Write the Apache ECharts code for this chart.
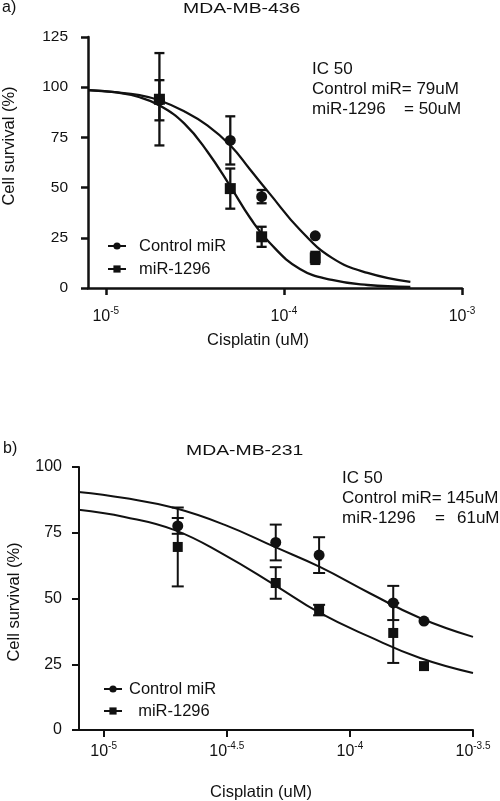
<!DOCTYPE html>
<html><head><meta charset="utf-8">
<script src="https://cdn.jsdelivr.net/npm/echarts@6/dist/echarts.min.js"></script>
<style>html,body{margin:0;padding:0;background:#fff}#c{width:500px;height:801px}</style>
</head><body><div id="c"></div>
<script>
// ---------- data: panel a (MDA-MB-436) ----------
const concA = [2e-5, 5e-5, 7.5e-5, 1.5e-4];          // cisplatin concentration
const ctrlA = [93.5, 73.5, 45.5, 26];                 // Control miR survival %
const ctrlAErr = [10, 12, 3.3, 0];
const mirA = [94, 49.5, 25.5, 15];                    // miR-1296 survival %
const mirAErr = [23, 10, 5, 3];
// fitted curves (log10 concentration, survival %)
const curveAx = [-5.10, -4.95, -4.81, -4.70, -4.56, -4.43, -4.30, -4.19, -4.08, -3.91, -3.73, -3.53, -3.29];
const ctrlCurveA = [98.5, 97.5, 96, 93.5, 88, 81, 71, 59, 47, 29, 15, 7.5, 3];
const mirCurveA  = [98.5, 97.5, 95, 91, 82, 68, 50.5, 35, 22.5, 9.5, 4, 1.5, 0.5];
const xTicksA = [-5, -4, -3];

// ---------- data: panel b (MDA-MB-231) ----------
const concB = [2e-5, 5e-5, 7.5e-5, 1.5e-4, 2e-4];
const ctrlB = [77.6, 71.3, 66.5, 48.3, 41.4];
const ctrlBErr = [3, 6.8, 6.8, 6.5, 0];
const mirB = [69.6, 55.9, 45.6, 36.9, 24.3];
const mirBErr = [15, 6, 2, 11.4, 0];
const curveBx = [-5.102, -4.915, -4.711, -4.508, -4.305, -4.122, -3.919, -3.715, -3.5];
const ctrlCurveB = [90.5, 88.2, 84.4, 78, 69.6, 62, 52, 42.6, 35.4];
const mirCurveB  = [83.7, 81, 76, 66.5, 55.1, 44.5, 35.4, 27.4, 21.7];
const xTicksB = [-5, -4.5, -4, -3.5];

const legendNames = ['Control miR', 'miR-1296'];

const FF = '"Liberation Sans", Arial, Helvetica, sans-serif';
const BLACK = '#111';

function pairs(xs, ys) { return xs.map((x, i) => [x, ys[i]]); }
function pts(conc, ys) { return conc.map((c, i) => [Math.log10(c), ys[i]]); }
function errs(conc, ys, es) { return conc.map((c, i) => [Math.log10(c), ys[i], es[i]]); }

function makeErr(capHalf, lw) {
  return function (params, api) {
    const x = api.value(0), y = api.value(1), e = api.value(2);
    if (!e) return { type: 'group', children: [] };
    const t = api.coord([x, y + e]), b = api.coord([x, y - e]);
    const st = { stroke: BLACK, lineWidth: lw };
    return { type: 'group', children: [
      { type: 'line', shape: { x1: t[0], y1: t[1], x2: b[0], y2: b[1] }, style: st },
      { type: 'line', shape: { x1: t[0] - capHalf, y1: t[1], x2: t[0] + capHalf, y2: t[1] }, style: st },
      { type: 'line', shape: { x1: b[0] - capHalf, y1: b[1], x2: b[0] + capHalf, y2: b[1] }, style: st }
    ]};
  };
}

function supLabel(v) {
  return '{b|10}{s|' + String(v) + '}';
}
function xAxisCfg(grid, min, max, ticks, margin, lw) {
  return {
    gridIndex: grid, type: 'value', min: min, max: max,
    axisLine: { lineStyle: { color: BLACK, width: lw } },
    axisTick: { customValues: ticks, length: 7, lineStyle: { color: BLACK, width: lw } },
    axisLabel: {
      customValues: ticks, margin: margin, formatter: supLabel, color: BLACK,
      rich: {
        b: { fontSize: 16, fontFamily: FF, color: BLACK },
        s: { fontSize: 10, fontFamily: FF, color: BLACK, padding: [0, 0, 12, 0] }
      }
    },
    splitLine: { show: false }
  };
}
function yAxisCfg(grid, max, fs, margin, lw) {
  return {
    gridIndex: grid, type: 'value', min: 0, max: max, interval: 25,
    axisLine: { show: true, lineStyle: { color: BLACK, width: lw } },
    axisTick: { show: true, length: 7, lineStyle: { color: BLACK, width: lw } },
    axisLabel: { fontSize: fs, fontFamily: FF, color: BLACK, margin: margin },
    splitLine: { show: false }
  };
}

const chart = echarts.init(document.getElementById('c'), null, { renderer: 'canvas' });

function txt(x, y, text, fs, align, extra) {
  return Object.assign({
    type: 'text', x: x, y: y,
    style: { text: text, fontSize: fs, fontFamily: FF, fill: BLACK,
      textAlign: align || 'left', textVerticalAlign: 'middle',
      align: align || 'left', verticalAlign: 'middle' }
  }, extra || {});
}

const lineCommon = { smooth: 0.45, showSymbol: false, z: 2 };

const option = {
  animation: false,
  backgroundColor: '#fff',
  grid: [
    { left: 88, right: 38, top: 37, height: 251 },
    { left: 79, right: 27, top: 467, height: 263 }
  ],
  xAxis: [
    xAxisCfg(0, -5.1, -3, xTicksA, 18, 2.5),
    xAxisCfg(1, -5.1, -3.5, xTicksB, 11, 2)
  ],
  yAxis: [
    yAxisCfg(0, 125, 15.5, 20, 2.5),
    yAxisCfg(1, 100, 16, 17, 2)
  ],
  legend: [
    {
      orient: 'vertical', left: 102, top: 232, itemWidth: 18, itemHeight: 9, itemGap: 5,
      selectedMode: false, data: legendNames,
      textStyle: { fontSize: 16.5, fontFamily: FF, color: BLACK, lineHeight: 18, padding: [0, 0, 0, 8] }
    },
    {
      orient: 'vertical', left: 98, top: 675, itemWidth: 18, itemHeight: 9, itemGap: 4,
      selectedMode: false, data: legendNames,
      formatter: function (n) { return n === 'miR-1296' ? '  ' + n : n; },
      textStyle: { fontSize: 16.5, fontFamily: FF, color: BLACK, lineHeight: 18, padding: [0, 0, 0, 2] }
    }
  ],
  series: [
    // fitted curves (first, so legend uses line icons)
    Object.assign({ name: legendNames[0], type: 'line', xAxisIndex: 0, yAxisIndex: 0, data: pairs(curveAx, ctrlCurveA),
      symbol: 'circle', lineStyle: { color: BLACK, width: 2.3 }, itemStyle: { color: BLACK } }, lineCommon),
    Object.assign({ name: legendNames[1], type: 'line', xAxisIndex: 0, yAxisIndex: 0, data: pairs(curveAx, mirCurveA),
      symbol: 'rect', lineStyle: { color: BLACK, width: 2.3 }, itemStyle: { color: BLACK } }, lineCommon),
    Object.assign({ name: 'ctrlCurveB', type: 'line', xAxisIndex: 1, yAxisIndex: 1, data: pairs(curveBx, ctrlCurveB),
      lineStyle: { color: BLACK, width: 2 } }, lineCommon),
    Object.assign({ name: 'mirCurveB', type: 'line', xAxisIndex: 1, yAxisIndex: 1, data: pairs(curveBx, mirCurveB),
      lineStyle: { color: BLACK, width: 2 } }, lineCommon),
    // error bars
    { type: 'custom', xAxisIndex: 0, yAxisIndex: 0, renderItem: makeErr(5, 2.3), encode: { x: 0, y: 1 },
      data: errs(concA, ctrlA, ctrlAErr), clip: false, z: 3 },
    { type: 'custom', xAxisIndex: 0, yAxisIndex: 0, renderItem: makeErr(5, 2.3), encode: { x: 0, y: 1 },
      data: errs(concA, mirA, mirAErr), clip: false, z: 3 },
    { type: 'custom', xAxisIndex: 1, yAxisIndex: 1, renderItem: makeErr(6, 2), encode: { x: 0, y: 1 },
      data: errs(concB, ctrlB, ctrlBErr), clip: false, z: 3 },
    { type: 'custom', xAxisIndex: 1, yAxisIndex: 1, renderItem: makeErr(6, 2), encode: { x: 0, y: 1 },
      data: errs(concB, mirB, mirBErr), clip: false, z: 3 },
    // points
    { name: 'ctrlPtsA', type: 'scatter', xAxisIndex: 0, yAxisIndex: 0, data: pts(concA, ctrlA),
      symbol: 'circle', symbolSize: 11, itemStyle: { color: BLACK, opacity: 1 }, z: 4 },
    { name: 'mirPtsA', type: 'scatter', xAxisIndex: 0, yAxisIndex: 0, data: pts(concA, mirA),
      symbol: 'rect', symbolSize: 11, itemStyle: { color: BLACK, opacity: 1 }, z: 5 },
    { name: 'ctrlPtsB', type: 'scatter', xAxisIndex: 1, yAxisIndex: 1, data: pts(concB, ctrlB),
      symbol: 'circle', symbolSize: 11, itemStyle: { color: BLACK, opacity: 1 }, z: 4 },
    { name: 'mirPtsB', type: 'scatter', xAxisIndex: 1, yAxisIndex: 1, data: pts(concB, mirB),
      symbol: 'rect', symbolSize: 10, itemStyle: { color: BLACK, opacity: 1 }, z: 5 }
  ],
  graphic: [
    txt(2, 8, 'a)', 16),
    txt(183, 9, 'MDA-MB-436', 15.5, 'left', { scaleX: 1.25 }),
    txt(312, 69, 'IC 50', 17),
    txt(312, 89, 'Control miR= 79uM', 17),
    txt(312, 109, 'miR-1296', 17),
    txt(404, 109, '= 50uM', 17),
    txt(9, 146, 'Cell survival (%)', 16.5, 'center', { rotation: Math.PI / 2 }),
    txt(258, 340, 'Cisplatin (uM)', 16.5, 'center'),

    txt(3, 449, 'b)', 16),
    txt(186, 451, 'MDA-MB-231', 15.5, 'left', { scaleX: 1.25 }),
    txt(342, 478, 'IC 50', 17),
    txt(342, 498, 'Control miR= 145uM', 17),
    txt(342, 518, 'miR-1296', 17),
    txt(435, 518, '=', 17),
    txt(457, 518, '61uM', 17),
    txt(14, 602, 'Cell survival (%)', 16.5, 'center', { rotation: Math.PI / 2 }),
    txt(261, 792, 'Cisplatin (uM)', 16.5, 'center')
  ]
};
chart.setOption(option);
</script></body></html>
